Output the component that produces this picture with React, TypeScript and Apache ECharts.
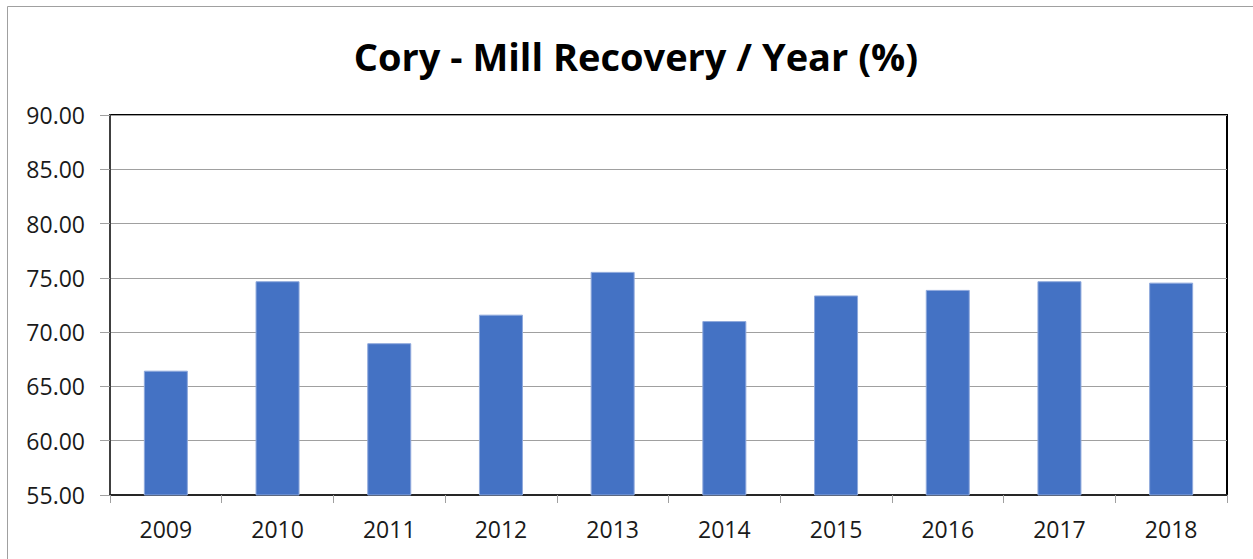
import React, { useEffect, useRef } from "react";
import * as echarts from "echarts";

const titleText = "Cory - Mill Recovery / Year (%)";
const years = ["2009", "2010", "2011", "2012", "2013", "2014", "2015", "2016", "2017", "2018"];
const recovery = [66.45, 74.69, 68.98, 71.61, 75.55, 71.02, 73.38, 73.89, 74.69, 74.56];
const yMin = 55;
const yMax = 90;
const yStep = 5;

export default function App() {
  const ref = useRef<HTMLDivElement>(null);
  useEffect(() => {
    document.body.style.margin = "0";
    if (!ref.current) return;
    const chart = echarts.init(ref.current, null, { renderer: "svg" });
    chart.setOption({
      animation: false,
      backgroundColor: "#ffffff",
      title: {
        text: titleText,
        left: 631,
        textAlign: "center",
        top: 32,
        textStyle: {
          fontFamily: "Open Sans",
          fontWeight: "bold",
          fontSize: 38,
          color: "#000000",
        },
      },
      graphic: [
        {
          type: "rect",
          silent: true,
          z: -10,
          shape: { x: 7.5, y: 6.5, width: 1270, height: 600 },
          style: { fill: "none", stroke: "#a0a0a0", lineWidth: 1 },
        },
      ],
      grid: {
        left: 110,
        right: 26,
        top: 115,
        bottom: 64,
        show: true,
        borderColor: "#000000",
        borderWidth: 2,
        backgroundColor: "transparent",
      },
      xAxis: {
        type: "category",
        data: years,
        axisLine: { lineStyle: { color: "#262626", width: 2 } },
        axisTick: { show: true, length: 8, lineStyle: { color: "#a0a0a0", width: 1 } },
        axisLabel: {
          margin: 22,
          fontFamily: "Open Sans",
          fontSize: 23,
          color: "#1a1a1a",
        },
        splitLine: { show: false },
      },
      yAxis: {
        type: "value",
        min: yMin,
        max: yMax,
        interval: yStep,
        axisLine: { show: true, lineStyle: { color: "#404040", width: 2 } },
        axisTick: { show: true, length: 10, lineStyle: { color: "#a0a0a0", width: 1 } },
        axisLabel: {
          margin: 25,
          fontFamily: "Open Sans",
          fontSize: 23,
          color: "#1a1a1a",
          formatter: (v: number) => v.toFixed(2),
        },
        splitLine: { show: true, lineStyle: { color: "#a0a0a0", width: 1 } },
      },
      series: [
        {
          type: "bar",
          data: recovery,
          barWidth: 44,
          itemStyle: { color: "#4472C4", borderColor: "#8fa9dc", borderWidth: 1 },
        },
      ],
    });
    return () => chart.dispose();
  }, []);
  return <div ref={ref} style={{ width: 1253, height: 559 }} />;
}
